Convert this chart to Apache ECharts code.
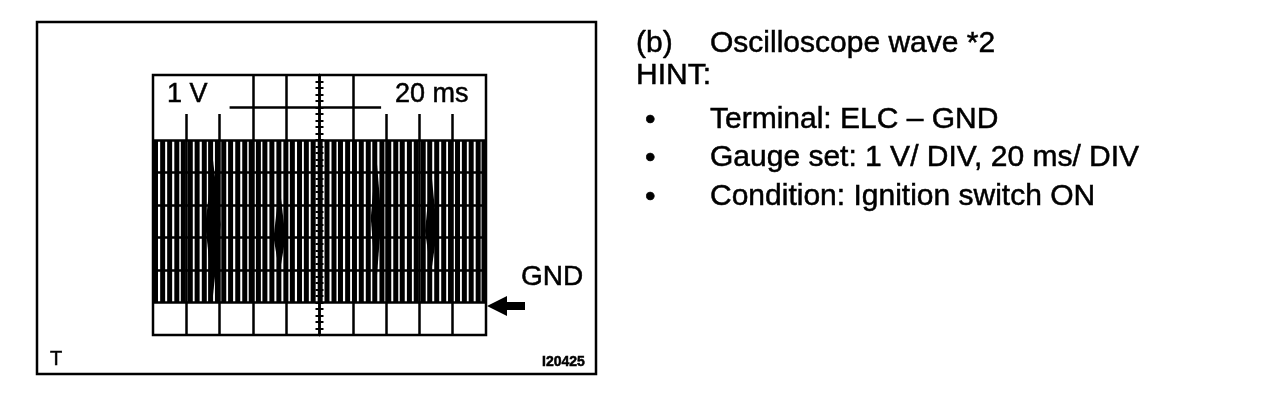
<!DOCTYPE html>
<html><head><meta charset="utf-8">
<script src="https://cdn.jsdelivr.net/npm/echarts@6.0.0/dist/echarts.min.js"></script>
<style>html,body{margin:0;padding:0;background:#fff}#c{width:1280px;height:416px}</style>
</head><body><div id="c"></div>
<script>
// Oscilloscope screen: 10 div x 20 ms (time, ms), 8 div x 1 V (GND = 0 V, one div above bottom)
const timeMin = 0, timeMax = 200, timeDiv = 20;
const voltMin = -1, voltMax = 7, voltDiv = 1;

// Pulse train (ms position of each pulse), pulse height in V
const pulseTimes = [1.5, 5.8, 10, 14.3, 18.2, 22.4, 26.5, 30.8, 34.6, 38.7, 42.5, 46.6, 50.9,
  55.1, 59.0, 63.3, 67.2, 71.4, 75.6, 79.8, 83.7, 88.0, 92.1, 96.2, 100.4, 104.5, 108.7,
  112.6, 116.9, 121.0, 125.1, 129.3, 133.2, 137.5, 141.6, 145.8, 149.7, 154.0, 158.1,
  162.3, 166.2, 170.4, 174.6, 178.7, 182.9, 187.0, 191.1, 195.3, 198.8];
const pulseLevels = [5, 5, 5, 5, 5, 5, 5, 5, 5, 5, 5, 5, 5, 5, 5, 5, 5, 5, 5, 5, 5, 5, 5, 5, 5,
  5, 5, 5, 5, 5, 5, 5, 5, 5, 5, 5, 5, 5, 5, 5, 5, 5, 5, 5, 5, 5, 5, 5, 5];

// Dense (overlapping) trace clusters
const clusterTimes = [36, 76, 134, 167];
const clusterHalfWidths = [4.6, 3.6, 3.2, 3.6];
const clusterTops = [4.4, 3.6, 4.6, 4.1];
const clusterWaists = [2.4, 2.0, 2.6, 2.2];
const clusterBottoms = [0.2, 0.9, 0.5, 0.9];

// Graticule
const hGridLevels = [0, 1, 2, 3, 4, 5];
const vGridTimes = [20, 40, 60, 80, 120, 140, 160, 180];
const upperFullTimes = [60, 80, 120];
const upperShortTimes = [20, 40, 140, 160, 180];
const upperShortRange = [5, 5.8];
const midLineLevel = 6, midLineRange = [46, 137];

const FONT = '"Liberation Sans", Arial, Helvetica, sans-serif';

const gridSegs = [];
hGridLevels.forEach(v => gridSegs.push([{coord: [timeMin, v]}, {coord: [timeMax, v]}]));
vGridTimes.forEach(t => gridSegs.push([{coord: [t, voltMin]}, {coord: [t, 5]}]));
upperFullTimes.forEach(t => gridSegs.push([{coord: [t, 5]}, {coord: [t, voltMax]}]));
upperShortTimes.forEach(t => gridSegs.push([{coord: [t, upperShortRange[0]]}, {coord: [t, upperShortRange[1]]}]));
gridSegs.push([{coord: [midLineRange[0], midLineLevel]}, {coord: [midLineRange[1], midLineLevel]}]);

const chart = echarts.init(document.getElementById('c'), null, {renderer: 'canvas'});
const centerAxis = (inside) => ({
  type: 'value', min: voltMin, max: voltMax, interval: voltDiv, position: 'left', offset: -166.5,
  axisLine: {show: true, onZero: false, lineStyle: {color: '#000', width: 2.5}},
  axisTick: {show: true, inside: inside, length: 4, lineStyle: {color: '#000', width: 2}},
  minorTick: {show: true, splitNumber: 5, length: 4, lineStyle: {color: '#000', width: 2}},
  axisLabel: {show: false}, splitLine: {show: false}
});
const txt = (x, y, text, font) => ({type: 'text', x: x, y: y, silent: true,
  style: {text: text, font: font + ' ' + FONT, fill: '#000', stroke: '#000', lineWidth: 0.5, verticalAlign: 'middle'}});
chart.setOption({
  animation: false,
  backgroundColor: '#fff',
  grid: {left: 153, top: 75, width: 333, height: 260, show: true, borderColor: '#000', borderWidth: 2.5,
    backgroundColor: 'transparent', outerBoundsMode: 'none', containLabel: false},
  xAxis: {type: 'value', min: timeMin, max: timeMax, interval: timeDiv,
    axisLine: {show: false}, axisTick: {show: false}, axisLabel: {show: false}, splitLine: {show: false}},
  yAxis: [
    {type: 'value', min: voltMin, max: voltMax, interval: voltDiv,
      axisLine: {show: false}, axisTick: {show: false}, axisLabel: {show: false}, splitLine: {show: false}},
    centerAxis(false), centerAxis(true)
  ],
  series: [
    {
      type: 'bar', name: 'ELC', barWidth: 5, silent: true,
      itemStyle: {color: '#000'},
      data: pulseTimes.map((t, i) => [t, pulseLevels[i]]),
      markLine: {silent: true, symbol: ['none', 'none'], label: {show: false},
        lineStyle: {color: '#000', width: 2.5, type: 'solid'}, emphasis: {disabled: true}, data: gridSegs},
      markPoint: {silent: true, label: {show: false},
        data: [{coord: [timeMax, 0], symbol: 'path://M0,10 L20,0 L20,6 L38,6 L38,14 L20,14 L20,20 Z',
          symbolSize: [38, 20], symbolOffset: [20, 3.5], itemStyle: {color: '#000'}}]}
    },
    {
      type: 'custom', silent: true, clip: true,
      data: clusterTimes.map((t, i) => [t, clusterHalfWidths[i], clusterTops[i], clusterWaists[i], clusterBottoms[i]]),
      encode: {x: 0, y: 2},
      renderItem: (params, api) => {
        const t = api.value(0), hw = api.value(1), top = api.value(2), w = api.value(3), bot = api.value(4);
        return {type: 'polygon', shape: {points: [api.coord([t, top]), api.coord([t + hw, w]),
          api.coord([t, bot]), api.coord([t - hw, w])]}, style: {fill: '#000'}};
      }
    }
  ],
  graphic: [
    {type: 'rect', silent: true, shape: {x: 37, y: 22, width: 559, height: 352}, style: {fill: 'none', stroke: '#000', lineWidth: 2.5}},
    txt(167, 95, '1 V', '27px'),
    txt(395, 95, '20 ms', '27px'),
    txt(521, 277, 'GND', '28px'),
    txt(50, 359, 'T', '20px'),
    txt(542, 362, 'I20425', 'bold 14px'),
    txt(636, 44, '(b)', '30px'),
    txt(710, 44, 'Oscilloscope wave *2', '30px'),
    txt(636, 76, 'HINT:', '30px'),
    txt(645, 121, '•', '30px'),
    txt(710, 120, 'Terminal: ELC – GND', '30px'),
    txt(645, 159, '•', '30px'),
    txt(710, 158, 'Gauge set: 1 V/ DIV, 20 ms/ DIV', '30px'),
    txt(645, 198, '•', '30px'),
    txt(710, 197, 'Condition: Ignition switch ON', '30px')
  ]
});
</script></body></html>
